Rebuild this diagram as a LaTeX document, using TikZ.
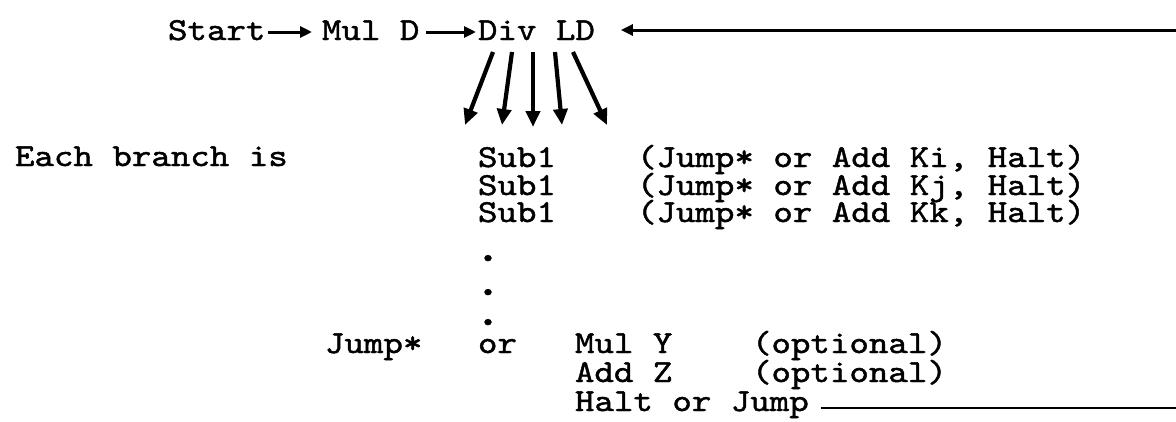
\documentclass[tikz,border=0pt]{standalone}
\usepackage{fontspec}
\newfontfamily\tw[FakeStretch=1.16,FakeBold=1.4]{lmmono10-regular.otf}
\usetikzlibrary{arrows.meta,calc}
\begin{document}
\begin{tikzpicture}[x=1pt,y=-1pt,
  txt/.style={anchor=base west,inner sep=0pt,outer sep=0pt,font=\tw\fontsize{32}{36}\selectfont},
  dotx/.style={anchor=base west,inner sep=0pt,outer sep=0pt,font=\tw\fontsize{46}{50}\selectfont},
  arr/.style={line width=3pt,-{Triangle[length=12pt,width=11pt]}},
  darr/.style={line width=4.2pt,-{Triangle[length=16pt,width=14pt]}},
  ln/.style={line width=2.6pt}]
\useasboundingbox[fill=white] (0,0) rectangle (1176,421);
% top row
\node[txt] (start) at (168,40) {Start};
\node[txt] (mul) at (322,40) {Mul D};
\node[txt] (div) at (478,40) {Div LD};
% branches
\node[txt] (each) at (15,166) {Each branch is};
\node[txt] (s1) at (478,167) {Sub1};
\node[txt] (s2) at (478,195) {Sub1};
\node[txt] (s3) at (478,222) {Sub1};
\node[txt] (p1) at (637,167) {(Jump* or Add Ki, Halt)};
\node[txt] (p2) at (637,195) {(Jump* or Add Kj, Halt)};
\node[txt] (p3) at (637,222) {(Jump* or Add Kk, Halt)};
\node[dotx] (d1) at (474,261) {.};
\node[dotx] (d2) at (474,295) {.};
\node[dotx] (d3) at (474,325) {.};
% bottom
\node[txt] (jump) at (325,353) {Jump*};
\node[txt] (or) at (478,353) {or};
\node[txt] (muly) at (575,353) {Mul Y};
\node[txt] (addz) at (575,382) {Add Z};
\node[txt] (halt) at (575,411) {Halt or Jump};
\node[txt] (opt1) at (752,353) {(optional)};
\node[txt] (opt2) at (752,382) {(optional)};
% connectors
\draw[arr] ($(start.base east)+(3,-8)$) -- ($(mul.base west)+(-10,-8)$);
\draw[arr] ($(mul.base east)+(7,-8)$) -- ($(div.base west)+(-2,-8)$);
\coordinate (rin) at (1176,30);
\draw[arr] (rin) -- ($(div.base east)+(26,-10)$);
\coordinate (rout) at (1176,408);
\draw[ln] ($(halt.base east)+(12,-3)$) -- (rout);
\coordinate (t1) at (465,125);
\coordinate (t2) at (502,125);
\coordinate (t3) at (533,127);
\coordinate (t4) at (562,125);
\coordinate (t5) at (607,125);
\draw[darr] ($(div.base west)+(15,12)$) -- (t1);
\draw[darr] ($(div.base west)+(34,12)$) -- (t2);
\draw[darr] ($(div.base west)+(55,12)$) -- (t3);
\draw[darr] ($(div.base west)+(77,12)$) -- (t4);
\draw[darr] ($(div.base west)+(95,12)$) -- (t5);
\end{tikzpicture}
\end{document}
